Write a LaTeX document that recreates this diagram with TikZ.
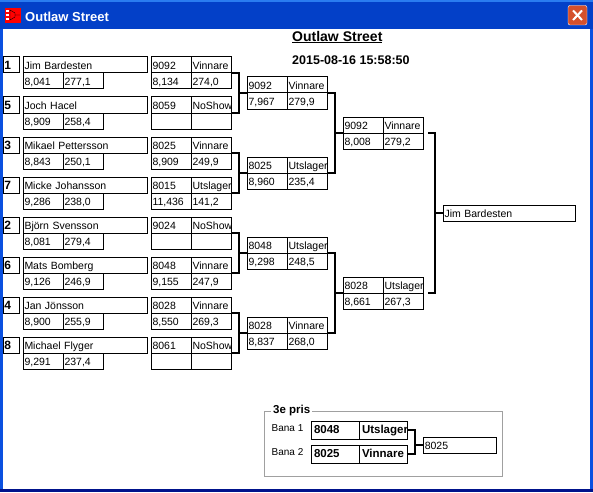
\documentclass[tikz,border=0pt]{standalone}
\usepackage{fontspec}
\setmainfont{Liberation Sans}
\usetikzlibrary{positioning}
\hyphenpenalty=10000
\definecolor{barblue}{HTML}{0340C8}
\definecolor{barlight}{HTML}{2A7CF0}
\definecolor{sideblue}{HTML}{0A50E0}
\definecolor{footblue}{HTML}{00138C}
\definecolor{closered}{HTML}{D4502C}
\definecolor{framegray}{HTML}{A0A0A0}

\tikzset{
  cell/.style={draw, line width=1pt, outer sep=0pt, inner xsep=1pt, inner ysep=0pt,
    minimum height=16pt, minimum width=40pt, text width=38pt, align=left,
    text height=9.5pt, text depth=1pt, font=\fontsize{10.5}{11}\selectfont},
  namecell/.style={cell, minimum width=124pt, text width=122pt},
  seedcell/.style={cell, minimum width=16pt, text width=14pt, font=\fontsize{12}{12}\bfseries\selectfont},
  finalcell/.style={cell, minimum width=132pt, text width=130pt},
  bigcell/.style={cell, minimum width=48pt, text width=43pt, minimum height=18pt, inner xsep=2.5pt,
    text height=8.5pt, text depth=2pt, font=\fontsize{11.5}{12}\bfseries\selectfont},
  label/.style={inner sep=0pt, anchor=west},
  link/.style={line width=2pt},
}

% one driver: seed, name and the two values below the name
\newcommand{\driver}[6]{
  \node[seedcell, anchor=north west] (#1n) at (3.5,#2) {#3};
  \node[namecell, anchor=north west] (#1d) at (23.5,#2) {#4};
  \node[cell, anchor=north west] (#1t) at (#1d.south west) {#5};
  \node[cell, right=0pt of #1t] (#1v) {#6};
}
% one result: car and status above, time and speed below
\newcommand{\heat}[7]{
  \node[cell, anchor=north west] (#1c) at (#2,#3) {#4};
  \node[cell, right=0pt of #1c] (#1s) {#5};
  \node[cell, below=0pt of #1c] (#1t) {#6};
  \node[cell, below=0pt of #1s] (#1v) {#7};
}

\begin{document}
\begin{tikzpicture}[x=1pt,y=-1pt]
  \useasboundingbox (0,0) rectangle (593,492);

  % window
  \fill[barblue] (0,0) rectangle (593,492);
  \fill[barlight] (0,0) rectangle (593,2);
  \fill[footblue] (0,489) rectangle (593,492);
  \fill[white] (3,29) rectangle (590,489);
  \fill[sideblue] (0,29) rectangle (3,489);
  \fill[sideblue] (590,29) rectangle (593,489);

  \fill[red] (5,8) rectangle (21,23);
  \foreach \y in {10,14,18} \fill[white] (6,\y) rectangle (9,\y+2);
  \draw[black] (10,10) -- (15,13) -- (15,17) -- (10,20) -- cycle (15,15) -- (20,15);
  \node[label, text=white, font=\fontsize{13}{13}\bfseries\selectfont] (wintitle) at (25,16.5) {Outlaw Street};

  \draw[white, fill=closered, rounded corners=2pt] (568,5.5) rectangle (587,25);
  \draw[white, line width=2pt] (573,10.5) -- (582,20) (582,10.5) -- (573,20);

  \node[label, font=\fontsize{14}{14}\bfseries\selectfont] (title) at (292,37) {\underline{Outlaw Street}};
  \node[label, font=\fontsize{12.5}{13}\bfseries\selectfont] (stamp) at (292,60) {2015-08-16 15:58:50};

  % first round
  \driver{a}{57}{1}{Jim Bardesten}{8,041}{277,1}
  \driver{b}{97}{5}{Joch Hacel}{8,909}{258,4}
  \driver{c}{137}{3}{Mikael Pettersson}{8,843}{250,1}
  \driver{d}{177}{7}{Micke Johansson}{9,286}{238,0}
  \driver{e}{217}{2}{Björn Svensson}{8,081}{279,4}
  \driver{f}{257}{6}{Mats Bomberg}{9,126}{246,9}
  \driver{g}{297}{4}{Jan Jönsson}{8,900}{255,9}
  \driver{h}{337}{8}{Michael Flyger}{9,291}{237,4}

  \heat{ra}{151.5}{57}{9092}{Vinnare}{8,134}{274,0}
  \heat{rb}{151.5}{97}{8059}{NoShow}{}{}
  \heat{rc}{151.5}{137}{8025}{Vinnare}{8,909}{249,9}
  \heat{rd}{151.5}{177}{8015}{Utslager}{11,436}{141,2}
  \heat{re}{151.5}{217}{9024}{NoShow}{}{}
  \heat{rf}{151.5}{257}{8048}{Vinnare}{9,155}{247,9}
  \heat{rg}{151.5}{297}{8028}{Vinnare}{8,550}{269,3}
  \heat{rh}{151.5}{337}{8061}{NoShow}{}{}

  % second round
  \heat{qa}{247.5}{77}{9092}{Vinnare}{7,967}{279,9}
  \heat{qb}{247.5}{157}{8025}{Utslager}{8,960}{235,4}
  \heat{qc}{247.5}{237}{8048}{Utslager}{9,298}{248,5}
  \heat{qd}{247.5}{317}{8028}{Vinnare}{8,837}{268,0}

  % third round
  \heat{sa}{343.5}{117}{9092}{Vinnare}{8,008}{279,2}
  \heat{sb}{343.5}{277}{8028}{Utslager}{8,661}{267,3}

  \node[finalcell, anchor=north west] (winner) at (443.5,205) {Jim Bardesten};

  % connectors
  \coordinate (ja) at (239,93);
  \coordinate (jb) at (239,173);
  \coordinate (jc) at (239,253);
  \coordinate (jd) at (239,333);
  \coordinate (je) at (335,133);
  \coordinate (jf) at (335,293);
  \coordinate (jg) at (435,213);
  \coordinate (fa) at (428,133);
  \coordinate (fb) at (428,293);

  \draw[link] (ras.south east) -| (ja) |- (rbs.south east) (ja) -- (qac.south west);
  \draw[link] (rcs.south east) -| (jb) |- (rds.south east) (jb) -- (qbc.south west);
  \draw[link] (res.south east) -| (jc) |- (rfs.south east) (jc) -- (qcc.south west);
  \draw[link] (rgs.south east) -| (jd) |- (rhs.south east) (jd) -- (qdc.south west);
  \draw[link] (qas.south east) -| (je) |- (qbs.south east) (je) -- (sac.south west);
  \draw[link] (qcs.south east) -| (jf) |- (qds.south east) (jf) -- (sbc.south west);
  \draw[link] (fa) -| (jg) |- (fb) (jg) -- (winner.west);

  % third place
  \node[draw=framegray, line width=1pt, minimum width=238.5pt, minimum height=65pt, anchor=north west] (prize) at (263.5,411) {};
  \node[label, fill=white, inner xsep=2pt, font=\fontsize{11.5}{12}\bfseries\selectfont] (prizetitle) at (271,411) {3e pris};
  \node[label, font=\fontsize{10}{10}\selectfont] (lanea) at (271.5,428) {Bana 1};
  \node[label, font=\fontsize{10}{10}\selectfont] (laneb) at (271.5,452) {Bana 2};
  \node[bigcell, anchor=north west] (pac) at (311.5,421) {8048};
  \node[bigcell, right=0pt of pac] (pas) {Utslager};
  \node[bigcell, anchor=north west] (pbc) at (311.5,445) {8025};
  \node[bigcell, right=0pt of pbc] (pbs) {Vinnare};
  \node[cell, minimum width=72.5pt, text width=70pt, anchor=north west] (third) at (423.5,437) {8025};
  \coordinate (jh) at (415,445);
  \draw[link] (pas.east) -| (jh) |- (pbs.east) (jh) -- (third.west);
\end{tikzpicture}
\end{document}
